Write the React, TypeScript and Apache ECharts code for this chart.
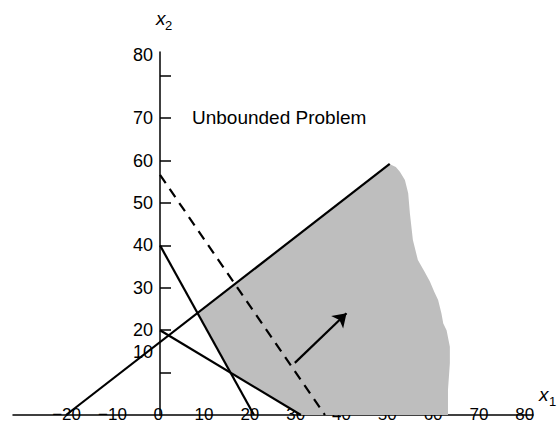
import React, { useEffect, useRef } from 'react';
import * as echarts from 'echarts';

// Tick values and labels
const xTickValues = [-20, -10, 0, 10, 20, 30, 40, 50, 60, 70, 80];
const xTickLabels = ['\u221220', '\u221210', '0', '10', '20', '30', '40', '50', '60', '70', '80'];
const yTickValues = [10, 20, 30, 40, 50, 60, 70, 80];
const yTickLabels = ['10', '20', '30', '40', '50', '60', '70', '80'];

// Constraint lines (x1, x2)
const constraint1 = [[-20, 0], [48.9, 59.2]];
const constraint2 = [[0, 40], [20, 0]];
const constraint3 = [[0, 20], [30, 0]];
const objectiveLine = [[0, 56.6], [35.1, 0]];
const directionArrow = [[28.7, 12.3], [39.7, 24.0]];

// Unbounded feasible region outline (x1, x2)
const feasibleRegion = [
  [7.98, 24.04], [48.94, 59.13], [50.2, 58.5], [51.06, 57.38], [52.13, 55.42], [52.83, 52.29],
  [53.19, 47.57], [53.83, 41.27], [54.89, 36.56], [56.2, 34.0], [57.45, 31.5], [58.4, 29.0],
  [59.2, 27.1], [59.9, 24.0], [60.3, 21.6], [61.0, 20.0], [61.7, 16.1], [61.7, 12.2],
  [61.3, 5.9], [61.3, 0], [30, 0], [15, 10],
];

const FONT = '"Liberation Sans", Arial, Helvetica, sans-serif';

export default function App() {
  const ref = useRef<HTMLDivElement>(null);
  useEffect(() => {
    if (!ref.current) return;
    const chart = echarts.init(ref.current, undefined, { renderer: 'svg' });
    const black = '#000';
    const lineSeries = (data: number[][], dashed = false) => ({
      type: 'line',
      data,
      symbol: 'none',
      showSymbol: false,
      silent: true,
      lineStyle: { color: black, width: 2.2, type: dashed ? [10, 7] : 'solid' },
      z: 3,
    });
    chart.setOption({
      animation: false,
      backgroundColor: '#fff',
      grid: { left: 13, top: 52, width: 520, height: 363, containLabel: false, outerBoundsMode: 'none' },
      xAxis: [
        {
          type: 'value',
          min: -31.3,
          max: 79.4,
          axisLine: { onZero: true, lineStyle: { color: black, width: 1.5 } },
          axisTick: { show: false },
          axisLabel: { show: false },
          splitLine: { show: false },
        },
        {
          type: 'value',
          position: 'bottom',
          min: -31.7,
          max: 81.8,
          axisLine: { show: false },
          axisTick: { show: false },
          splitLine: { show: false },
          axisLabel: {
            customValues: xTickValues,
            formatter: (v: number) => xTickLabels[xTickValues.indexOf(v)] ?? '',
            margin: -9,
            fontSize: 17,
            color: black,
            fontFamily: FONT,
          },
        },
      ],
      yAxis: {
        type: 'value',
        min: 0,
        max: 85.6,
        position: 'left',
        offset: -147,
        axisLine: { onZero: false, lineStyle: { color: black, width: 1.5 } },
        axisTick: { inside: true, length: 11, customValues: yTickValues, lineStyle: { color: black, width: 1.5 } },
        splitLine: { show: false },
        axisLabel: {
          customValues: yTickValues,
          margin: 7,
          formatter: (v: number) => {
            const t = yTickLabels[yTickValues.indexOf(v)] ?? '';
            if (v === 80 || v === 10) return '{up|' + t + '}';
            return '{n|' + t + '}';
          },
          rich: {
            n: { fontSize: 18, color: black, fontFamily: FONT },
            up: { fontSize: 18, color: black, fontFamily: FONT, padding: [0, 0, 42, 0] },
          },
        },
      },
      series: [
        {
          type: 'custom',
          data: [[0, 0]],
          silent: true,
          z: 1,
          renderItem: (_params: any, api: any) => ({
            type: 'polygon',
            shape: { points: feasibleRegion.map((p) => api.coord(p)) },
            style: { fill: '#bebebe', stroke: 'none' },
          }),
        },
        lineSeries(constraint1),
        lineSeries(constraint2),
        lineSeries(constraint3),
        lineSeries(objectiveLine, true),
        {
          type: 'lines',
          coordinateSystem: 'cartesian2d',
          silent: true,
          z: 4,
          symbol: ['none', 'arrow'],
          symbolSize: 13,
          lineStyle: { color: black, width: 2.2, opacity: 1 },
          data: [{ coords: directionArrow }],
        },
      ],
      graphic: [
        {
          type: 'text',
          x: 192,
          y: 117.5,
          silent: true,
          style: { text: 'Unbounded Problem', fontSize: 19, fill: black, fontFamily: FONT, verticalAlign: 'middle' },
        },
        {
          type: 'text',
          x: 156,
          y: 18.5,
          silent: true,
          style: { text: 'x', fontSize: 19, fontStyle: 'italic', fill: black, fontFamily: FONT, verticalAlign: 'middle' },
        },
        {
          type: 'text',
          x: 165,
          y: 25.6,
          silent: true,
          style: { text: '2', fontSize: 13, fill: black, fontFamily: FONT, verticalAlign: 'middle' },
        },
        {
          type: 'text',
          x: 539,
          y: 394,
          silent: true,
          style: { text: 'x', fontSize: 19, fontStyle: 'italic', fill: black, fontFamily: FONT, verticalAlign: 'middle' },
        },
        {
          type: 'text',
          x: 549,
          y: 401,
          silent: true,
          style: { text: '1', fontSize: 13, fill: black, fontFamily: FONT, verticalAlign: 'middle' },
        },
      ],
    });
    return () => chart.dispose();
  }, []);
  return (
    <div
      ref={ref}
      style={{ position: 'fixed', left: 0, top: 0, width: 557, height: 423, background: '#fff' }}
    />
  );
}
